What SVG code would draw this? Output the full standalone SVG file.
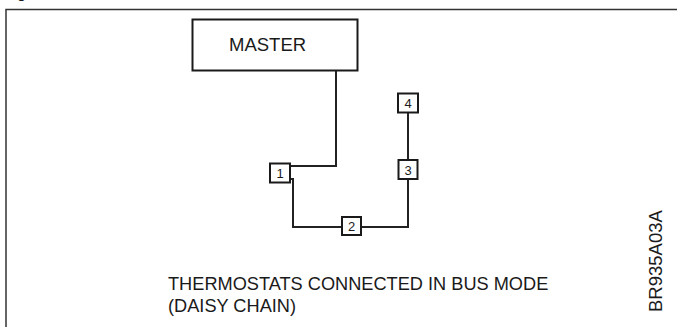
<svg xmlns="http://www.w3.org/2000/svg" width="677" height="327" viewBox="0 0 677 327">
<style>
text{font-family:"Liberation Sans",Arial,sans-serif;fill:#1a1a1a}
.box{fill:#fff;stroke:#1a1a1a;stroke-width:2}
.wire{fill:none;stroke:#222;stroke-width:2}
.frame{fill:none;stroke:#333;stroke-width:1.5}
.num{font-size:13px;text-anchor:middle}
</style>
<rect width="677" height="327" fill="#fff"/>
<text x="17" y="-2" font-size="16">g</text>
<path class="frame" d="M6,327 V9.5 H677"/>
<g id="connectors">
<path class="wire" d="M336,71 V166 H290"/>
<path class="wire" d="M290,179 H293 V227 H342"/>
<path class="wire" d="M361,227 H408 V179"/>
<path class="wire" d="M408,160 V112"/>
</g>
<g id="master">
<rect class="box" x="192.5" y="19.5" width="165" height="51"/>
<text x="229" y="51" font-size="18.5">MASTER</text>
</g>
<g id="t1">
<rect class="box" x="270" y="163.5" width="20" height="19"/>
<text class="num" x="280" y="178">1</text>
</g>
<g id="t2">
<rect class="box" x="342" y="217" width="19" height="18"/>
<text class="num" x="351.5" y="231">2</text>
</g>
<g id="t3">
<rect class="box" x="398.5" y="160" width="19" height="19"/>
<text class="num" x="408" y="174.5">3</text>
</g>
<g id="t4">
<rect class="box" x="398" y="93.5" width="20" height="19"/>
<text class="num" x="408" y="108">4</text>
</g>
<text x="168" y="290" font-size="18.2">THERMOSTATS CONNECTED IN BUS MODE</text>
<text x="168" y="312" font-size="18.2">(DAISY CHAIN)</text>
<text transform="translate(662,312) rotate(-90)" font-size="18.5">BR935A03A</text>
</svg>
